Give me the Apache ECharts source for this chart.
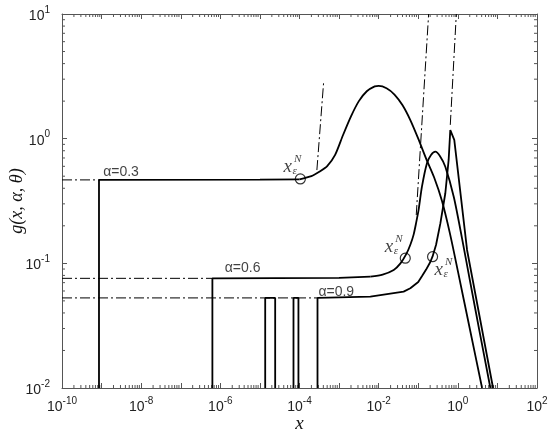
<!DOCTYPE html>
<html>
<head>
<meta charset="utf-8">
<script src="https://cdn.jsdelivr.net/npm/echarts@6/dist/echarts.min.js"></script>
<style>
html, body { margin: 0; background: #fff; }
#chart { width: 550px; height: 435px; }
</style>
</head>
<body>
<div id="chart"></div>
<script>
// axis ranges and ticks
const xMin = 1e-10, xMax = 100;
const yMin = 0.01, yMax = 10;
const xMajor = [1e-10, 1e-9, 1e-8, 1e-7, 1e-6, 1e-5, 1e-4, 1e-3, 1e-2, 1e-1, 1, 10, 100];
const xLabelled = [1e-10, 1e-8, 1e-6, 1e-4, 1e-2, 1, 100];
const yMajor = [0.01, 0.1, 1, 10];
const xDecades = [-10, -9, -8, -7, -6, -5, -4, -3, -2, -1, 0, 1];
const yDecades = [-2, -1, 0];
const minorSteps = [2, 3, 4, 5, 6, 7, 8, 9];

// alpha = 0.3
const a3Step = [[8.6e-10, 0.01], [8.6e-10, 0.467], [1e-5, 0.469], [1e-4, 0.472]];
const a3Curve = [[1e-4, 0.472], [2.0e-4, 0.501], [3.16e-4, 0.543], [5.01e-4, 0.603], [7.94e-4, 0.741],
  [1.26e-3, 1.07], [2.0e-3, 1.51], [3.16e-3, 2.0], [5.01e-3, 2.40], [7.94e-3, 2.63], [0.01, 2.65],
  [0.0158, 2.54], [0.0251, 2.26], [0.0398, 1.86], [0.0631, 1.41], [0.1, 1.0], [0.158, 0.692],
  [0.251, 0.49], [0.398, 0.316], [0.631, 0.174], [1.0, 0.087], [2.0, 0.030], [4.1, 0.01]];
const a3Level = [[1e-10, 0.467], [8.6e-10, 0.467]];
const a3Asym = [[2.75e-4, 0.56], [4.05e-4, 2.78]];

// alpha = 0.6
const a6Step = [[6.3e-7, 0.01], [6.3e-7, 0.0758], [1e-3, 0.0765], [6.17e-3, 0.0782]];
const a6Curve = [[6.17e-3, 0.0782], [0.0126, 0.0813], [0.024, 0.0885], [0.0355, 0.1], [0.0501, 0.119],
  [0.0631, 0.141], [0.0764, 0.17], [0.0891, 0.214], [0.102, 0.268], [0.124, 0.412], [0.166, 0.635],
  [0.21, 0.74], [0.27, 0.787], [0.355, 0.724], [0.483, 0.596], [0.794, 0.339], [1.28, 0.158],
  [2.0, 0.0741], [3.55, 0.0282], [6.64, 0.01]];
const a6Level = [[1e-10, 0.0758], [6.3e-7, 0.0758]];
const a6Asym = [[0.089, 0.244], [0.183, 10]];

// alpha = 0.9
const a9Box1 = [[1.36e-5, 0.01], [1.36e-5, 0.0528], [2.43e-5, 0.0528], [2.43e-5, 0.01]];
const a9Box2 = [[7.05e-5, 0.01], [7.05e-5, 0.0528], [9.4e-5, 0.0528], [9.4e-5, 0.01]];
const a9Curve = [[2.85e-4, 0.01], [2.85e-4, 0.0528], [6.17e-3, 0.054], [0.0427, 0.0593],
  [0.0631, 0.0631], [0.1, 0.0708], [0.126, 0.0794], [0.158, 0.0891], [0.2, 0.102], [0.229, 0.113],
  [0.282, 0.141], [0.363, 0.21], [0.483, 0.365], [0.586, 0.675], [0.645, 1.17], [0.813, 0.977],
  [1.71, 0.128], [7.76, 0.01]];
const a9Level = [[1e-10, 0.0528], [2.85e-4, 0.0528]];
const a9Asym = [[0.645, 1.29], [0.916, 10]];

// x_eps^N markers and text positions
const epsPoints = [[1.05e-4, 0.475], [0.047, 0.11], [0.23, 0.113]];
const epsText = [[5.04e-5, 0.588], [0.0182, 0.1346], [0.327, 0.0885]];
const alphaLabels = [[3.1e-9, 0.54, 'α=0.3'], [3.66e-6, 0.0918, 'α=0.6'], [8.5e-4, 0.059, 'α=0.9']];

const xMinor = [];
xDecades.forEach(d => minorSteps.forEach(m => xMinor.push([m * Math.pow(10, d), yMin])));
const yMinor = [];
yDecades.forEach(d => minorSteps.forEach(m => yMinor.push([xMin, m * Math.pow(10, d)])));

const frame = '#555';
const solid = { color: '#000', width: 1.8 };
const dashDot = { color: '#000', width: 1, type: [10, 3, 2, 3] };

function plain(data, smooth) {
  return { type: 'line', data: data, symbol: 'none', smooth: smooth || false, lineStyle: solid, silent: true, z: 3 };
}
function dd(data) {
  return { type: 'line', data: data, symbol: 'none', lineStyle: dashDot, silent: true, z: 2 };
}

function powLabel(v) {
  const e = Math.round(Math.log10(v));
  return '{b|10}{s|' + e + '}';
}
const powRich = {
  b: { fontSize: 14, fontFamily: 'Liberation Sans', color: '#222', lineHeight: 18, verticalAlign: 'bottom' },
  s: { fontSize: 10, fontFamily: 'Liberation Sans', color: '#222', lineHeight: 8, verticalAlign: 'top' }
};

function xMinorTick(params, api) {
  const b = api.coord([api.value(0), yMin]);
  const t = api.coord([api.value(0), yMax]);
  return {
    type: 'group', children: [
      { type: 'line', shape: { x1: b[0], y1: b[1], x2: b[0], y2: b[1] - 3 }, style: { stroke: frame, lineWidth: 1 } },
      { type: 'line', shape: { x1: t[0], y1: t[1], x2: t[0], y2: t[1] + 3 }, style: { stroke: frame, lineWidth: 1 } }
    ]
  };
}
function yMinorTick(params, api) {
  const l = api.coord([xMin, api.value(1)]);
  const r = api.coord([xMax, api.value(1)]);
  return {
    type: 'group', children: [
      { type: 'line', shape: { x1: l[0], y1: l[1], x2: l[0] + 3, y2: l[1] }, style: { stroke: frame, lineWidth: 1 } },
      { type: 'line', shape: { x1: r[0], y1: r[1], x2: r[0] - 3, y2: r[1] }, style: { stroke: frame, lineWidth: 1 } }
    ]
  };
}

function axis(extra, ticks) {
  return Object.assign({
    type: 'log', splitLine: { show: false },
    axisLine: { show: true, lineStyle: { color: frame, width: 1 } },
    axisTick: { show: true, inside: true, length: 5, customValues: ticks, lineStyle: { color: frame } }
  }, extra);
}

const mathFont = { fontFamily: 'Liberation Serif', fontStyle: 'italic', color: '#111' };
function textSeries(data, text, size, offset) {
  return {
    type: 'scatter', symbolSize: 0, silent: true, z: 5, data: data,
    label: Object.assign({
      show: true, position: [0, 0], align: 'center', verticalAlign: 'middle',
      offset: offset, fontSize: size, formatter: text
    }, mathFont)
  };
}

const option = {
  animation: false,
  backgroundColor: '#fff',
  grid: { left: 62, right: 13, top: 14, bottom: 47, containLabel: false, outerBoundsMode: 'none' },
  xAxis: [
    axis({
      min: xMin, max: xMax, position: 'bottom',
      name: 'x', nameLocation: 'middle', nameGap: 26, nameMoveOverlap: false,
      nameTextStyle: Object.assign({ fontSize: 19 }, mathFont),
      axisLabel: { margin: 8, customValues: xLabelled, formatter: powLabel, rich: powRich }
    }, xMajor),
    axis({ min: xMin, max: xMax, position: 'top', axisLabel: { show: false } }, xMajor)
  ],
  yAxis: [
    axis({
      min: yMin, max: yMax, position: 'left',
      name: 'g(x, α, θ)', nameLocation: 'middle', nameGap: 36, nameMoveOverlap: false,
      nameTextStyle: Object.assign({ fontSize: 18 }, mathFont),
      axisLabel: { margin: 12, customValues: yMajor, formatter: powLabel, rich: powRich }
    }, yMajor),
    axis({ min: yMin, max: yMax, position: 'right', axisLabel: { show: false } }, yMajor)
  ],
  series: [
    { type: 'custom', renderItem: xMinorTick, data: xMinor, silent: true, clip: false, z: 1 },
    { type: 'custom', renderItem: yMinorTick, data: yMinor, silent: true, clip: false, z: 1 },
    dd(a3Level), dd(a3Asym), dd(a6Level), dd(a6Asym), dd(a9Level), dd(a9Asym),
    plain(a3Step), plain(a3Curve, 0.25),
    plain(a6Step), plain(a6Curve, 0.25),
    plain(a9Box1), plain(a9Box2), plain(a9Curve),
    {
      type: 'scatter', data: epsPoints, symbol: 'circle', symbolSize: 10, silent: true, z: 4,
      itemStyle: { color: 'rgba(255,255,255,0)', borderColor: '#000', borderWidth: 1.2 }
    },
    {
      type: 'scatter', symbolSize: 0, silent: true, z: 5,
      data: alphaLabels.map(a => ({ value: [a[0], a[1]], name: a[2] })),
      label: {
        show: true, position: [0, 0], align: 'center', verticalAlign: 'middle',
        formatter: p => p.name, fontFamily: 'Liberation Sans', fontSize: 14, color: '#111'
      }
    },
    textSeries(epsText, 'x', 19, [0, 0]),
    textSeries(epsText, 'N', 11, [10, -8]),
    textSeries(epsText, 'ε', 11, [7, 4])
  ]
};

const myChart = echarts.init(document.getElementById('chart'));
myChart.setOption(option);
</script>
</body>
</html>
